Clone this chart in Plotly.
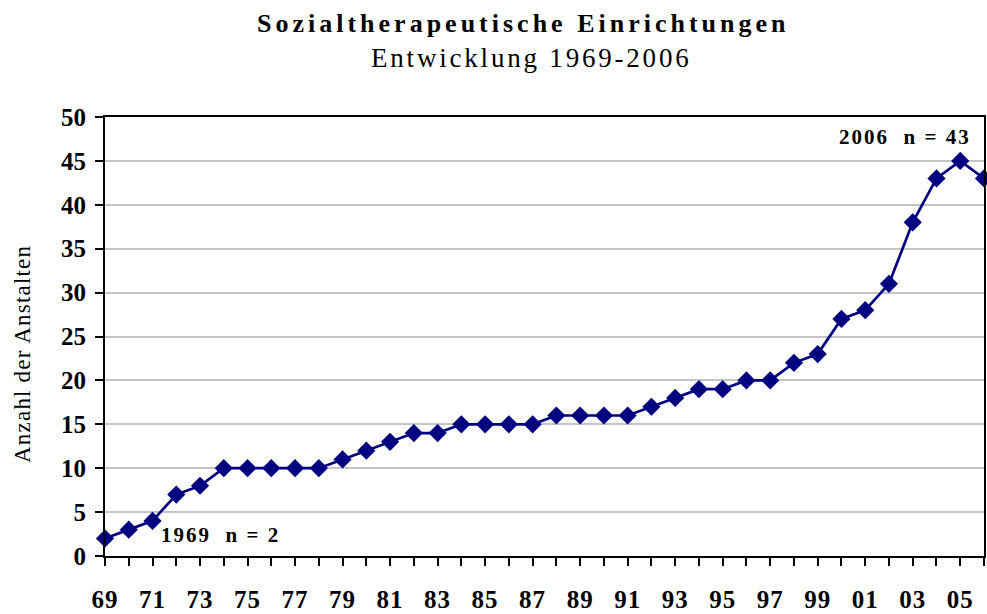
import plotly.graph_objects as go

years = list(range(1969, 2007))
counts = [2, 3, 4, 7, 8, 10, 10, 10, 10, 10, 11, 12, 13, 14, 14, 15, 15, 15, 15, 16,
          16, 16, 16, 17, 18, 19, 19, 20, 20, 22, 23, 27, 28, 31, 38, 43, 45, 43]
tick_labels = [f"{y % 100:02d}" if (y - 1969) % 2 == 0 else "" for y in years]
y_ticks = list(range(0, 51, 5))

title_main = "Sozialtherapeutische Einrichtungen"
title_sub = "Entwicklung 1969-2006"
y_title = "Anzahl der Anstalten"
note_start = "1969  n = 2"
note_end = "2006  n = 43"

SERIF = "Liberation Serif, Times New Roman, serif"
NAVY = "#000080"

# plot-area pixel geometry (used only to place text annotations)
PL, PR, PT, PB = 105, 986, 117, 562


def spaced(text, px):
    return f'<span style="letter-spacing:{px}px">{text}</span>'


def px_x(x):
    return (x - PL) / (PR - PL)


def px_y(y):
    return (PB - y) / (PB - PT)


fig = go.Figure()
fig.add_trace(go.Scatter(
    x=years, y=counts, mode="lines+markers",
    line=dict(color=NAVY, width=2.7),
    marker=dict(symbol="diamond", size=14, color=NAVY),
    cliponaxis=False, showlegend=False,
))

fig.update_layout(
    width=987, height=614,
    margin=dict(l=PL, r=987 - PR, t=PT, b=614 - PB),
    paper_bgcolor="white", plot_bgcolor="white",
    font=dict(family=SERIF, color="black"),
    xaxis=dict(
        range=[1969, 2006], tickmode="array", tickvals=years,
        ticktext=[spaced(t, 1) for t in tick_labels],
        ticks="outside", ticklen=8, tickwidth=1.5, tickcolor="black",
        tickfont=dict(size=25, family=SERIF, weight="bold"),
        ticklabelstandoff=12,
        showgrid=False, showline=True, linecolor="black", linewidth=2,
        mirror=True, zeroline=False,
    ),
    yaxis=dict(
        range=[0, 50], tickmode="array", tickvals=y_ticks,
        ticks="outside", ticklen=8, tickwidth=1.5, tickcolor="black",
        tickfont=dict(size=25, family=SERIF, weight="bold"),
        ticklabelstandoff=4,
        showgrid=True, gridcolor="#c4c4c4", gridwidth=1.5,
        showline=True, linecolor="black", linewidth=2, mirror=True, zeroline=False,
    ),
    annotations=[
        dict(text=spaced(title_main, 4),
             xref="paper", yref="paper", x=px_x(524), y=px_y(22),
             xanchor="center", yanchor="middle", showarrow=False,
             font=dict(size=26, family=SERIF, weight="bold")),
        dict(text=spaced(title_sub, 2.8),
             xref="paper", yref="paper", x=px_x(532), y=px_y(57),
             xanchor="center", yanchor="middle", showarrow=False,
             font=dict(size=27, family=SERIF)),
        dict(text=spaced(y_title, 1.2),
             xref="paper", yref="paper", x=px_x(23), y=px_y(357),
             xanchor="center", yanchor="middle", showarrow=False, textangle=-90,
             font=dict(size=23, family=SERIF)),
        dict(text=spaced(note_start, 2),
             xref="paper", yref="paper", x=px_x(159), y=px_y(541),
             xanchor="left", yanchor="middle", showarrow=False,
             font=dict(size=21, family=SERIF, weight="bold")),
        dict(text=spaced(note_end, 2),
             xref="paper", yref="paper", x=px_x(975), y=px_y(137),
             xanchor="right", yanchor="middle", showarrow=False,
             font=dict(size=21, family=SERIF, weight="bold")),
    ],
)

fig.write_html("out.html", config={"displayModeBar": False})

with open("out.html", encoding="utf-8") as f:
    html = f.read()
html = html.replace("<body>", '<body style="margin:0;padding:0;overflow:hidden">', 1)
with open("out.html", "w", encoding="utf-8") as f:
    f.write(html)
